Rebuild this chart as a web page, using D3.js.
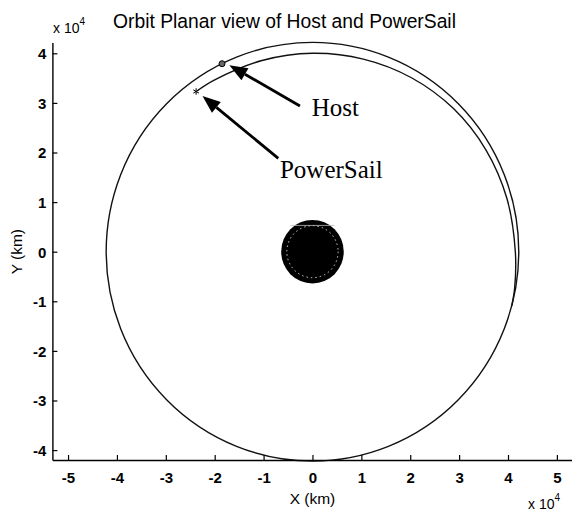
<!DOCTYPE html>
<html><head><meta charset="utf-8">
<script src="https://cdn.jsdelivr.net/npm/d3@7"></script>
<style>html,body{margin:0;padding:0;background:#fff;overflow:hidden}</style>
</head><body>
<svg id="c" width="572" height="513"></svg>
<script>
// ---- data (units: x10^4 km) ----
const xTicks = [-5,-4,-3,-2,-1,0,1,2,3,4,5];
const yTicks = [-4,-3,-2,-1,0,1,2,3,4];
const hostOrbitRadius = 4.22;     // GEO circle (Host)
const earthRadius = 0.64;
const sailAngles = [-15,-10,0,15,30,45,60,75,90,105,120,126];        // deg
const sailRadii  = [4.22,4.20,4.15,4.12,4.10,4.08,4.05,4.02,4.00,3.99,4.00,4.01];
const hostPos = [-1.85, 3.79];
const sailPos = [-2.38, 3.23];
const labels = ["Host","PowerSail"];

const svg = d3.select("#c");
const x = d3.scaleLinear().domain([-5.32, 5.35]).range([52.4, 574]);
const y = d3.scaleLinear().domain([-4.2, 4.22]).range([460, 42.4]);

// orbits
const g = svg.append("g");
g.append("ellipse").attr("cx", x(0)).attr("cy", y(0))
  .attr("rx", x(hostOrbitRadius)-x(0)).attr("ry", y(0)-y(hostOrbitRadius))
  .attr("fill","none").attr("stroke","#111").attr("stroke-width",1.4);

const sailPts = sailAngles.map((a,i)=>[sailRadii[i]*Math.cos(a*Math.PI/180), sailRadii[i]*Math.sin(a*Math.PI/180)]);
g.append("path").attr("d", d3.line().x(d=>x(d[0])).y(d=>y(d[1])).curve(d3.curveCatmullRom)(sailPts))
  .attr("fill","none").attr("stroke","#111").attr("stroke-width",1.4);

// Earth
g.append("ellipse").attr("cx", x(0)).attr("cy", y(0))
  .attr("rx", x(earthRadius)-x(0)).attr("ry", y(0)-y(earthRadius)).attr("fill","#000");
g.append("ellipse").attr("cx", x(0)).attr("cy", y(0))
  .attr("rx", x(earthRadius*0.82)-x(0)).attr("ry", y(0)-y(earthRadius*0.82))
  .attr("fill","none").attr("stroke","#fff").attr("stroke-width",1).attr("stroke-dasharray","1.5 3").attr("opacity",0.8);
g.append("line").attr("x1", x(-0.45)).attr("x2", x(0.45)).attr("y1", y(0.53)).attr("y2", y(0.53))
  .attr("stroke","#bbb").attr("stroke-width",0.8);

// markers
g.append("circle").attr("cx", x(hostPos[0])).attr("cy", y(hostPos[1])).attr("r",3)
  .attr("fill","#666").attr("stroke","#000").attr("stroke-width",1);
g.append("path").attr("transform",`translate(${x(sailPos[0])},${y(sailPos[1])})`)
  .attr("d", d3.symbol(d3.symbolAsterisk, 30)()).attr("fill","none").attr("stroke","#000").attr("stroke-width",1);

// arrows (tail -> tip, data units)
const arrows = [
  {tail:[-0.256,2.937], tip:[-1.70,3.76], text:[-0.016,2.736], label:labels[0]},
  {tail:[-0.699,1.883], tip:[-2.25,3.14], text:[-0.665,1.489], label:labels[1]}
];
arrows.forEach(a=>{
  const x1=x(a.tail[0]), y1=y(a.tail[1]), x2=x(a.tip[0]), y2=y(a.tip[1]);
  const ang=Math.atan2(y2-y1,x2-x1), L=18, W=7;
  const bx=x2-L*Math.cos(ang), by=y2-L*Math.sin(ang);
  g.append("line").attr("x1",x1).attr("y1",y1).attr("x2",bx).attr("y2",by)
    .attr("stroke","#000").attr("stroke-width",2.8);
  const px=-Math.sin(ang), py=Math.cos(ang);
  g.append("polygon").attr("points",[[x2,y2],[bx+px*W,by+py*W],[bx-px*W,by-py*W]].map(p=>p.join(",")).join(" "))
    .attr("fill","#000");
  g.append("text").attr("x",x(a.text[0])).attr("y",y(a.text[1]))
    .attr("font-family","Liberation Serif, 'Times New Roman', serif").attr("font-size",25)
    .attr("fill","#000").text(a.label);
});

// axes
const font = "Liberation Sans, Arial, sans-serif";
const xa = svg.append("g").attr("transform",`translate(0,${y(-4.2)})`)
  .call(d3.axisBottom(x).tickValues(xTicks).tickSizeInner(-5).tickSizeOuter(0).tickPadding(12).tickFormat(d3.format("d")));
const ya = svg.append("g").attr("transform",`translate(${x(-5.32)},0)`)
  .call(d3.axisLeft(y).tickValues(yTicks).tickSizeInner(-5).tickSizeOuter(0).tickPadding(6).tickFormat(d3.format("d")));
[xa,ya].forEach(a=>{
  a.select(".domain").attr("stroke","#000").attr("stroke-width",1.4);
  a.selectAll(".tick line").attr("stroke","#000").attr("stroke-width",1.2);
  a.selectAll(".tick text").attr("font-family",font).attr("font-size",15).attr("font-weight","bold").attr("fill","#000")
   .text(d=>String(d).replace("\u2212","-"));
});
ya.selectAll(".tick text").attr("dy","0.36em");

// labels
svg.append("text").attr("x",113).attr("y",28).attr("font-family",font).attr("font-size",19.3)
  .attr("fill","#000").text("Orbit Planar view of Host and PowerSail");
svg.append("text").attr("x",x(0)).attr("y",504).attr("text-anchor","middle").attr("font-family",font)
  .attr("font-size",15.5).attr("fill","#000").text("X (km)");
svg.append("text").attr("transform",`translate(22,${y(0)}) rotate(-90)`).attr("text-anchor","middle")
  .attr("font-family",font).attr("font-size",15.5).attr("fill","#000").text("Y (km)");
function expo(tx,ty){
  const t=svg.append("text").attr("x",tx).attr("y",ty).attr("font-family",font).attr("font-size",14).attr("fill","#000");
  t.append("tspan").text("x 10");
  t.append("tspan").attr("dy",-8).attr("font-size",10).text("4");
}
expo(53,33);
expo(528,509);
</script>
</body></html>
